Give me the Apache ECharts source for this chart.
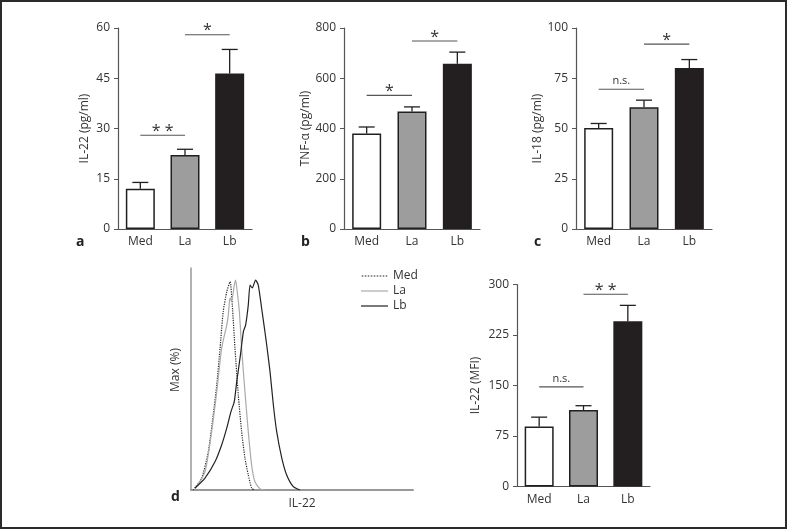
<!DOCTYPE html>
<html>
<head>
<meta charset="utf-8">
<script src="https://cdn.jsdelivr.net/npm/echarts@6/dist/echarts.min.js"></script>
<style>html,body{margin:0;padding:0;background:#fff}#c{width:787px;height:530px}</style>
</head>
<body>
<div id="c"></div>
<script>
// ---- data ----
const categories = ['Med', 'La', 'Lb'];
const barColors = ['#ffffff', '#9d9d9d', '#231f20'];

const il22Mean = [12.0, 22.1, 46.4];
const il22Upper = [13.9, 23.8, 53.6];
const il22Sig = [[0, 1, 28, '**'], [1, 2, 58, '*']];
const il22Ticks = [0, 60, 15];

const tnfMean = [380, 468, 658];
const tnfUpper = [406, 486, 704];
const tnfSig = [[0, 1, 532, '*'], [1, 2, 748, '*']];
const tnfTicks = [0, 800, 200];

const il18Mean = [50.3, 60.6, 80.1];
const il18Upper = [52.5, 64.1, 84.3];
const il18Sig = [[0, 1, 69.5, 'n.s.'], [1, 2, 92, '*']];
const il18Ticks = [0, 100, 25];

const mfiMean = [89, 113.7, 245.6];
const mfiUpper = [103, 120, 269];
const mfiSig = [[0, 1, 148, 'n.s.'], [1, 2, 285.6, '**']];
const mfiTicks = [0, 300, 75];

const histNames = ['Med', 'La', 'Lb'];
const histMed = [[1.0,0],[4.8,5.3],[7.8,17.3],[10.0,33.8],[11.6,47.3],[13.1,64.0],[14.5,80.3],[16.1,89.3],[17.6,93.8],[18.6,83.3],[19.8,64.0],[21.3,42.8],[22.8,26.3],[24.3,14.4],[25.8,6.8],[27.3,0.9],[28.5,0]];
const histLa = [[1.8,0.5],[6.3,8.2],[9.3,26.3],[11.6,44.3],[13.8,63.8],[16.1,74.3],[16.8,78.8],[17.6,86.5],[18.3,84.8],[19.5,92.3],[20.1,94.6],[21.0,87.8],[21.8,80.3],[22.8,64.0],[24.3,44.3],[25.8,26.3],[27.3,11.3],[28.8,3.7],[31.1,0.5],[33.3,0]];
const histLb = [[1.8,0.9],[6.3,5.4],[10.8,12.7],[13.8,20.3],[16.1,27.9],[18.0,35.3],[19.5,39.8],[20.6,48.8],[22.1,59.5],[23.6,71.3],[24.6,74.3],[25.8,83.3],[26.6,92.3],[27.6,91.0],[29.1,94.6],[30.3,92.3],[31.8,82.0],[33.3,71.3],[34.1,65.3],[35.6,53.3],[37.1,38.3],[38.6,26.3],[40.9,14.4],[43.1,6.8],[46.1,1.5],[49.1,0]];

// ---- layout ----
const FONT = '"Open Sans", "Noto Sans", sans-serif';
const TXT = '#333';
const AX = '#555';

const grids = [
  {left: 118, top: 28, width: 134, height: 201},
  {left: 344, top: 28, width: 136, height: 201},
  {left: 576, top: 28, width: 136, height: 201},
  {left: 517, top: 284.5, width: 133, height: 202},
  {left: 191, top: 268, width: 222, height: 222}
];

const panels = [
  {mean: il22Mean, upper: il22Upper, sig: il22Sig, ticks: il22Ticks, name: 'IL-22 (pg/ml)', gap: 27},
  {mean: tnfMean, upper: tnfUpper, sig: tnfSig, ticks: tnfTicks, name: 'TNF-α (pg/ml)', gap: 29},
  {mean: il18Mean, upper: il18Upper, sig: il18Sig, ticks: il18Ticks, name: 'IL-18 (pg/ml)', gap: 32},
  {mean: mfiMean, upper: mfiUpper, sig: mfiSig, ticks: mfiTicks, name: 'IL-22 (MFI)', gap: 35}
];

const xAxes = [], yAxes = [], series = [];
panels.forEach((p, gi) => {
  xAxes.push({
    type: 'category', gridIndex: gi, data: categories, boundaryGap: true,
    axisLine: {lineStyle: {color: AX, width: 1.2}},
    axisTick: {alignWithLabel: true, length: 4, lineStyle: {color: AX}},
    axisLabel: {color: TXT, fontFamily: FONT, fontSize: 12, margin: 7}
  });
  yAxes.push({
    type: 'value', gridIndex: gi, min: p.ticks[0], max: p.ticks[1], interval: p.ticks[2],
    name: p.name, nameLocation: 'middle', nameGap: p.gap,
    nameTextStyle: {color: TXT, fontFamily: FONT, fontSize: 12},
    axisLine: {show: true, lineStyle: {color: AX, width: 1.2}},
    axisTick: {show: true, length: 4, lineStyle: {color: AX}},
    axisLabel: {color: TXT, fontFamily: FONT, fontSize: 12, margin: 8},
    splitLine: {show: false}
  });
  series.push({
    type: 'bar', xAxisIndex: gi, yAxisIndex: gi, barWidth: 29,
    data: p.mean.map((v, i) => ({value: v, itemStyle: {color: barColors[i]}})),
    itemStyle: {borderColor: '#231f20', borderWidth: 1.5},
    silent: true
  });
  series.push({
    type: 'custom', xAxisIndex: gi, yAxisIndex: gi, z: 3,
    data: p.mean.map((v, i) => [i, v, p.upper[i]]),
    encode: {x: 0, y: [1, 2]},
    renderItem: function (params, api) {
      const base = api.coord([api.value(0), api.value(1)]);
      const top = api.coord([api.value(0), api.value(2)]);
      const st = {stroke: '#231f20', lineWidth: 1.3};
      return {type: 'group', children: [
        {type: 'line', shape: {x1: base[0], y1: base[1], x2: top[0], y2: top[1]}, style: st},
        {type: 'line', shape: {x1: top[0] - 8, y1: top[1], x2: top[0] + 8, y2: top[1]}, style: st}
      ]};
    }
  });
  series.push({
    type: 'custom', xAxisIndex: gi, yAxisIndex: gi, z: 4, clip: false,
    data: p.sig,
    encode: {x: [0, 1], y: 2},
    renderItem: function (params, api) {
      const a = api.coord([api.value(0), api.value(2)]);
      const b = api.coord([api.value(1), api.value(2)]);
      const lab = p.sig[params.dataIndex][3];
      const isStar = lab.indexOf('*') >= 0;
      return {type: 'group', children: [
        {type: 'line', shape: {x1: a[0], y1: a[1], x2: b[0], y2: b[1]}, style: {stroke: '#555', lineWidth: 1.1}},
        {type: 'text', style: {
          text: isStar ? lab.split('').join(' ') : lab,
          x: (a[0] + b[0]) / 2, y: a[1] - (isStar ? 4 : 8),
          textAlign: 'center', textVerticalAlign: 'middle',
          fill: '#333', fontFamily: FONT, fontSize: isStar ? 16 : 11
        }}
      ]};
    }
  });
});

// histogram panel
xAxes.push({
  type: 'value', gridIndex: 4, min: 0, max: 100,
  name: 'IL-22', nameLocation: 'middle', nameGap: 8,
  nameTextStyle: {color: TXT, fontFamily: FONT, fontSize: 12},
  axisLine: {lineStyle: {color: '#999', width: 2}},
  axisTick: {show: false}, axisLabel: {show: false}, splitLine: {show: false}
});
yAxes.push({
  type: 'value', gridIndex: 4, min: 0, max: 100,
  name: 'Max (%)', nameLocation: 'middle', nameGap: 9,
  nameTextStyle: {color: TXT, fontFamily: FONT, fontSize: 12, padding: [0, 0, 0, 18]},
  axisLine: {show: true, lineStyle: {color: '#999', width: 1.5}},
  axisTick: {show: false}, axisLabel: {show: false}, splitLine: {show: false}
});
const histData = [histMed, histLa, histLb];
const histStyle = [
  {color: '#222', type: 'dotted', width: 1.2},
  {color: '#aaa', type: 'solid', width: 1.2},
  {color: '#222', type: 'solid', width: 1.2}
];
histNames.forEach((nm, k) => {
  const h = histStyle[k];
  series.push({
    type: 'line', name: nm, xAxisIndex: 4, yAxisIndex: 4, data: histData[k],
    symbol: 'none', smooth: 0.2, silent: true,
    lineStyle: {color: h.color, type: h.type, width: h.width},
    itemStyle: {color: h.color}
  });
});

// legend icons: thin solid bar or a row of small dashes (dotted)
let dotted = 'path://';
for (let i = 0; i < 27; i += 3) dotted += 'M' + i + ',0h1.6v1.2h-1.6z';
const solid = 'path://M0,0h27v1.2h-27z';

const letter = (t, x, y) => ({type: 'text', left: x, top: y, style: {text: t, fill: '#222', font: 'bold 14px ' + FONT}});

const option = {
  animation: false,
  backgroundColor: '#fff',
  grid: grids,
  xAxis: xAxes,
  yAxis: yAxes,
  series: series,
  legend: {
    data: histNames.map((nm, k) => ({name: nm, icon: k === 0 ? dotted : solid, itemStyle: {color: histStyle[k].color}})),
    orient: 'vertical', left: 356, top: 264,
    itemWidth: 27, itemHeight: 1.2, itemGap: 1,
    textStyle: {color: TXT, fontFamily: FONT, fontSize: 12, lineHeight: 14},
    selectedMode: false
  },
  graphic: [
    {type: 'rect', shape: {x: 1, y: 1, width: 785, height: 527}, style: {fill: null, stroke: '#2b2b2b', lineWidth: 2}},
    letter('a', 76, 235),
    letter('b', 301, 235),
    letter('c', 534, 235),
    letter('d', 171, 490)
  ]
};

const chart = echarts.init(document.getElementById('c'), null, {renderer: 'canvas'});
chart.setOption(option);
</script>
</body>
</html>
